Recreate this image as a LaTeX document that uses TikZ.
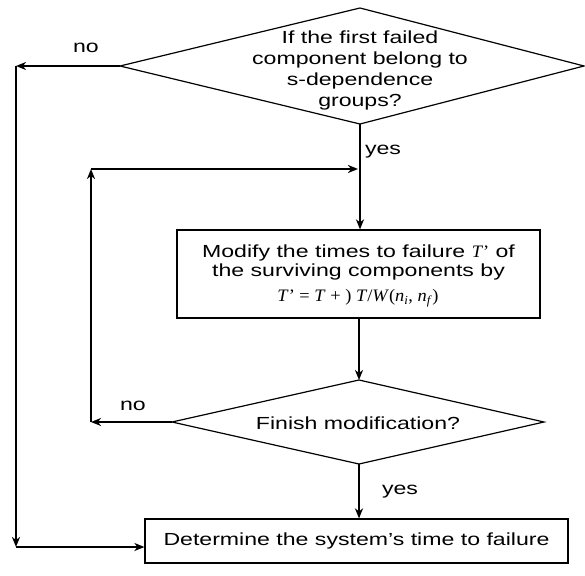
\documentclass[tikz,border=0pt]{standalone}
\usepackage{fontspec}
\setmainfont{Liberation Sans}[FakeStretch=1.32]
\newfontfamily\formulafont{Liberation Serif}[FakeStretch=1.05]
\usetikzlibrary{arrows.meta}
\newcommand\vi[1]{\textit{#1}}

\begin{document}
\begin{tikzpicture}[x=1pt,y=-1pt,
  txt/.style={font=\fontsize{17.5}{21}\selectfont, align=center, inner sep=0pt},
  shape line/.style={line width=1.2pt, line join=miter},
  boxnode/.style={draw, line width=1.2pt, inner sep=0pt, align=center,
    font=\fontsize{17.5}{21}\selectfont},
  conn/.style={line width=2pt, -{Stealth[length=10pt,width=8pt,inset=3pt]}}
]
\useasboundingbox (0,0) rectangle (585,575);

% first decision
\coordinate (d1t) at (360,8);
\coordinate (d1l) at (120,66);
\coordinate (d1r) at (584,66);
\coordinate (d1b) at (360,124);
\draw[shape line] (d1t) -- (d1r) -- (d1b) -- (d1l) -- cycle;
\node[txt] (q1) at (360,70) {If the first failed\\component belong to\\s-dependence\\groups?};

% modification step
\node[boxnode, minimum width=363pt, minimum height=88pt] (b1) at (358.5,274) {};
\node[txt, font=\fontsize{17.5}{19}\selectfont] (b1a) at (358.5,262) {Modify the times to failure {\formulafont\vi{T}’} of\\the surviving components by};
\node[txt, font=\formulafont\fontsize{17.5}{20}\selectfont] (b1b) at (358,298)
  {\vi{T}’ = \vi{T} + ) \vi{T}/\vi{W}(\vi{n}\textsubscript{\vi{i}}, \vi{n}\textsubscript{\vi{f}})};

% second decision
\coordinate (d2t) at (359,380);
\coordinate (d2l) at (172,422);
\coordinate (d2r) at (544,422);
\coordinate (d2b) at (359,464);
\draw[shape line] (d2t) -- (d2r) -- (d2b) -- (d2l) -- cycle;
\node[txt] (q2) at (358,423) {Finish modification?};

% final step
\node[boxnode, minimum width=423pt, minimum height=44pt] (b2) at (356.5,541)
  {Determine the system’s time to failure};

% connectors
\coordinate (c1) at (16,66);
\coordinate (c2) at (16,547);
\coordinate (c3) at (91,422);
\coordinate (c4) at (91,169);
\coordinate (c5) at (358,169);

\draw[conn] (d1l) -- (c1);
\draw[conn] (c1) -- (c2);
\draw[conn] (c2) -- (b2.west |- c2);

\draw[conn] (d1b) -- (b1.north -| d1b);
\draw[conn] (b1.south -| d2t) -- (d2t);
\draw[conn] (d2b) -- (b2.north -| d2b);

\draw[conn] (d2l) -- (c3);
\draw[conn] (c3) -- (c4);
\draw[conn] (c4) -- (c5);

% branch labels
\node[txt] (no1) at (86,48) {no};
\node[txt] (yes1) at (383,152) {yes};
\node[txt] (no2) at (133,406) {no};
\node[txt] (yes2) at (400,492) {yes};
\end{tikzpicture}
\end{document}
